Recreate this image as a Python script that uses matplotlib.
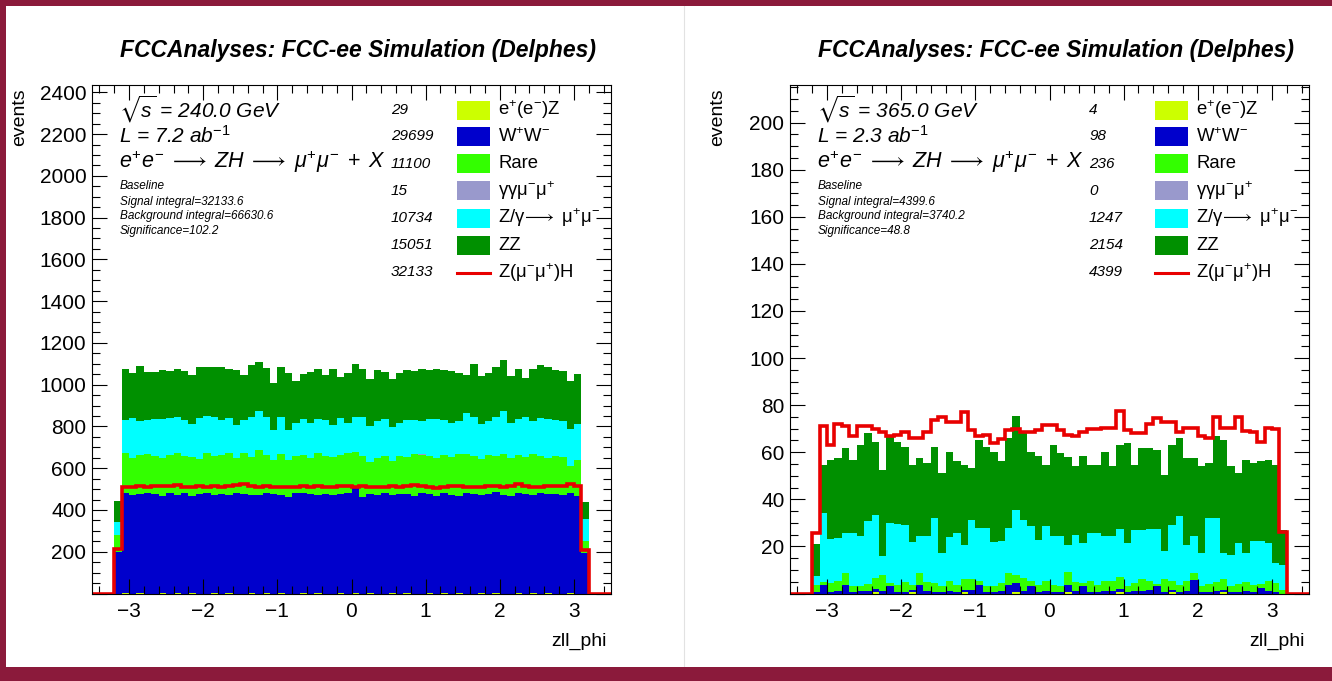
import matplotlib

matplotlib.use("Agg")
import matplotlib.pyplot as plt
import numpy as np
from matplotlib.lines import Line2D
from matplotlib.patches import Rectangle
from matplotlib.ticker import FuncFormatter, MultipleLocator

plt.rcParams["font.family"] = ["Liberation Sans", "DejaVu Sans"]
plt.rcParams["mathtext.fontset"] = "custom"
plt.rcParams["mathtext.rm"] = "Liberation Sans"
plt.rcParams["mathtext.it"] = "Liberation Sans:italic"
plt.rcParams["mathtext.bf"] = "Liberation Sans:bold"
plt.rcParams["mathtext.sf"] = "Liberation Sans"
plt.rcParams["mathtext.fallback"] = "stixsans"

W, H, DPI = 1332, 681, 100

# zll_phi histogram: 0.1 wide bins, only -3.2 .. 3.2 is filled
BIN_EDGES = np.round(np.arange(-3.2, 3.2001, 0.1), 2)
X_RANGE = (-3.5, 3.5)

TITLE = "FCCAnalyses: FCC-ee Simulation (Delphes)"
PROCESS_LABELS = [
    r"$\mathrm{e^{+}(e^{-})Z}$",
    r"$\mathrm{W^{+}W^{-}}$",
    "Rare",
    r"$\mathrm{\gamma\gamma\mu^{-}\mu^{+}}$",
    r"$\mathrm{Z/\gamma\!\longrightarrow\ \mu^{+}\mu^{-}}$",
    "ZZ",
]
SIGNAL_LABEL = r"$\mathrm{Z(\mu^{-}\mu^{+})H}$"
PROCESS_COLORS = ["#ccff00", "#0000cc", "#33ff00", "#9999cc", "#00ffff", "#009000"]
SIGNAL_COLOR = "#e80000"

# ---- sqrt(s) = 240 GeV ----
eez_240 = [0, 1, 0, 1, 0, 0, 1, 0, 1, 0, 1, 0, 0, 1, 0, 1, 0, 0, 1, 0, 1, 0, 1, 0, 0, 1, 0, 1, 0, 0, 1, 0,
           1, 0, 1, 0, 0, 1, 0, 1, 0, 0, 1, 0, 1, 0, 1, 0, 0, 1, 0, 1, 0, 0, 1, 0, 1, 0, 1, 0, 0, 1, 0, 0]
ww_240 = [200, 478, 470, 474, 480, 476, 468, 482, 473, 479, 466, 477, 481, 472, 475, 470, 483, 478, 469, 474,
          480, 476, 471, 464, 479, 482, 475, 473, 478, 470, 476, 481, 505, 462, 477, 474, 480, 472, 478, 475,
          469, 482, 476, 466, 479, 473, 468, 480, 475, 471, 477, 483, 474, 469, 478, 476, 472, 480, 474, 477,
          471, 479, 465, 196]
rare_240 = [80, 192, 179, 186, 190, 181, 181, 183, 197, 181, 188, 167, 192, 185, 190, 200, 166, 195, 185, 215,
            180, 165, 194, 174, 178, 178, 174, 197, 179, 184, 184, 192, 171, 195, 151, 175, 177, 161, 182, 179,
            201, 183, 181, 183, 181, 181, 197, 190, 182, 170, 188, 174, 196, 180, 182, 178, 193, 177, 175, 183,
            183, 130, 173, 56]
gg_240 = [0, 0, 0, 1, 0, 0, 0, 0, 1, 0, 0, 0, 0, 1, 0, 0, 0, 0, 1, 0, 0, 0, 1, 0, 0, 0, 0, 1, 0, 0, 0, 0,
          1, 0, 0, 0, 0, 1, 0, 0, 0, 1, 0, 0, 0, 0, 1, 0, 0, 0, 0, 1, 0, 0, 0, 1, 0, 0, 0, 0, 1, 0, 0, 0]
zgamma_240 = [63, 159, 191, 165, 159, 179, 184, 175, 175, 169, 155, 196, 175, 188, 168, 170, 160, 160, 191, 187,
              185, 144, 180, 147, 160, 173, 168, 166, 172, 155, 180, 144, 169, 188, 173, 176, 179, 160, 157, 175,
              163, 160, 176, 187, 169, 163, 160, 194, 188, 168, 160, 188, 202, 168, 173, 191, 160, 183, 184, 173,
              171, 180, 175, 105]
zz_240 = [100, 246, 216, 263, 230, 223, 236, 224, 227, 235, 234, 245, 237, 238, 250, 235, 263, 215, 246, 232,
          235, 223, 240, 271, 199, 215, 242, 239, 219, 266, 195, 239, 251, 230, 226, 244, 223, 234, 239, 240,
          231, 247, 236, 239, 240, 247, 231, 184, 254, 231, 231, 240, 244, 223, 239, 187, 247, 256, 252, 239,
          239, 227, 238, 80]
signal_240 = [211, 512, 510, 514, 511, 516, 513, 515, 520, 512, 510, 513, 511, 514, 512, 516, 518, 522, 513, 511,
              514, 510, 512, 509, 511, 513, 512, 514, 510, 511, 513, 515, 512, 514, 511, 509, 512, 513, 510, 516,
              520, 514, 512, 505, 512, 515, 513, 511, 512, 510, 513, 514, 512, 515, 525, 516, 512, 511, 513, 516,
              514, 524, 513, 208]
yields_240 = ["29", "29699", "11100", "15", "10734", "15051", "32133"]
info_240 = ["240.0", "7.2", "32133.6", "66630.6", "102.2"]

# ---- sqrt(s) = 365 GeV ----
eez_365 = [0, 0, 0, 0, 0, 0, 0, 0, 0.5, 0, 0, 0, 0, 0.5, 0, 0, 0, 0, 0, 0, 0.5, 0, 0, 0, 0, 0, 0, 0.5, 0, 0,
           0, 0, 0, 0, 0.5, 0, 0, 0, 0, 0, 0, 0.5, 0, 0, 0, 0, 0, 0, 0.5, 0, 0, 0, 0, 0, 0, 0.5, 0, 0, 0, 0,
           0, 0, 0, 0]
ww_365 = [0.5, 3.5, 0.5, 1.0, 3.5, 0.5, 1.0, 1.0, 1.5, 1.0, 3.0, 0.5, 0.5, 1.0, 3.5, 1.0, 0.5, 0.5, 1.0, 0.5,
          1.0, 1.5, 3.5, 0.5, 0.5, 1.0, 3.5, 4.0, 1.0, 3.0, 0.5, 1.0, 0.5, 0.5, 3.0, 1.0, 3.0, 0.5, 0.5, 1.0,
          1.0, 1.5, 0.5, 1.0, 1.0, 1.5, 3.0, 0.5, 1.0, 0.5, 1.0, 5.9, 0.5, 0.5, 1.0, 1.0, 0.5, 0.5, 1.0, 0.5,
          2.5, 1.0, 0.5, 0.0]
rare_365 = [3.0, 1.5, 4.0, 4.5, 5.3, 2.5, 2.0, 3.0, 4.5, 7.0, 1.5, 3.0, 4.5, 2.0, 5.0, 4.0, 4.0, 2.5, 4.5, 3.0,
            4.5, 4.5, 2.0, 2.5, 2.5, 3.5, 5.3, 3.5, 5.5, 2.5, 3.0, 4.5, 3.0, 2.5, 5.5, 4.0, 1.5, 5.0, 3.0, 4.5,
            4.5, 5.0, 2.5, 3.5, 5.0, 4.0, 1.0, 5.5, 4.0, 3.0, 4.5, 2.9, 2.5, 3.5, 4.0, 4.5, 2.5, 3.5, 4.0, 3.0,
            1.5, 4.5, 4.0, 1.5]
gg_365 = [0.0] * 64
zgamma_365 = [3.8, 29, 18.5, 18, 16.9, 22.7, 21.5, 26.6, 26.8, 7.8, 25.5, 26, 24, 18.5, 15.8, 19.3, 27.5, 14,
              18.5, 22.2, 14.5, 25.4, 22.3, 24.8, 19, 18, 19.2, 27.5, 24.9, 23, 19.4, 23, 20.8, 21.3, 11.5, 20,
              17, 20.2, 22.2, 18.8, 18.8, 20.5, 18.5, 22.5, 21, 21.9, 23.4, 12, 23.5, 29.3, 15.3, 15.5, 14.2, 28,
              27, 11, 13.5, 17.5, 12.2, 18.7, 18.2, 16, 8.5, 10.5]
zz_365 = [13.7, 20.7, 33.8, 34, 36, 31.1, 38.6, 37.5, 31, 36.7, 37.4, 35, 33.4, 32.5, 33.2, 31.1, 30.4, 34.1,
          36.3, 30.4, 34, 21.8, 37.5, 34.6, 38.3, 33.6, 38, 40.1, 36.7, 31.8, 35.3, 26.2, 38.8, 35.3, 37.5, 29,
          36.7, 29, 29, 36, 29.7, 35.4, 42.3, 27.7, 34.7, 34.3, 33.6, 32.4, 33.9, 33.2, 36.7, 33.2, 36.8, 23.4,
          34.7, 48, 37.5, 29.6, 39.6, 33.2, 33.9, 35.3, 41.7, 15]
signal_365 = [25.7, 71.0, 63.0, 72.0, 71.0, 67.0, 71.0, 71.0, 70.0, 68.5, 67.0, 67.5, 68.5, 66.0, 66.0, 68.5,
              73.5, 75.0, 73.0, 73.0, 77.0, 69.5, 67.0, 67.5, 64.0, 65.5, 69.5, 70.0, 68.8, 68.8, 69.5, 71.5,
              71.5, 69.5, 67.5, 67.0, 68.8, 70.0, 70.0, 70.2, 70.2, 77.5, 69.5, 68.0, 68.0, 72.0, 74.5, 73.0,
              73.0, 68.8, 70.2, 70.2, 67.0, 66.0, 75.0, 70.2, 70.5, 75.0, 69.0, 68.8, 64.5, 70.5, 70.0, 26.0]
yields_365 = ["4", "98", "236", "0", "1247", "2154", "4399"]
info_365 = ["365.0", "2.3", "4399.6", "3740.2", "48.8"]

# layout in pixels
AX_TOP, AX_BOTTOM, AX_W = 85, 593.5, 519
LEGEND_ROWS = [110, 136.5, 163.5, 191, 218, 245, 272.5]
BORDER = "#8b1a3b"


def to_fig(x_px, y_px):
    return x_px / W, 1 - y_px / H


def draw_panel(fig, left, layers, signal, yields, info, ymax, ystep):
    x0, y0 = to_fig(left, AX_BOTTOM)
    ax = fig.add_axes([x0, y0, AX_W / W, (AX_BOTTOM - AX_TOP) / H])

    # stacked backgrounds, top of stack drawn first
    tops = np.cumsum(np.array(layers, dtype=float), axis=0)
    for top, color in reversed(list(zip(tops, PROCESS_COLORS))):
        ax.stairs(top, BIN_EDGES, baseline=0, fill=True, color=color, lw=0)

    edges = np.concatenate([[X_RANGE[0]], BIN_EDGES, [X_RANGE[1]]])
    ax.stairs(np.concatenate([[0], signal, [0]]), edges, baseline=0,
              color=SIGNAL_COLOR, lw=2.6, zorder=3)

    ax.set_xlim(*X_RANGE)
    ax.set_ylim(0, ymax)
    ax.xaxis.set_major_locator(MultipleLocator(1))
    ax.xaxis.set_minor_locator(MultipleLocator(0.2))
    ax.yaxis.set_major_locator(MultipleLocator(ystep))
    ax.yaxis.set_minor_locator(MultipleLocator(ystep / 4))
    ax.yaxis.set_major_formatter(FuncFormatter(lambda v, p: "" if v == 0 else f"{v:g}"))
    ax.tick_params(which="both", direction="in", top=True, right=True, width=0.8,
                   labelsize=15, colors="black")
    ax.tick_params(axis="x", which="major", length=10.5, pad=6)
    ax.tick_params(axis="x", which="minor", length=5.5)
    ax.tick_params(axis="y", which="major", length=11, pad=4)
    ax.tick_params(axis="y", which="minor", length=5.5)
    for spine in ax.spines.values():
        spine.set_linewidth(0.8)
        spine.set_zorder(4)

    def text(x, y, s, **kw):
        fig.text(*to_fig(left + x, y), s, **kw)

    text(AX_W / 2 + 6, 51, TITLE, ha="center", va="center", fontsize=16.5,
         fontweight="bold", style="italic")
    text(-72, 88, "events", rotation=90, ha="center", va="top", fontsize=14)
    text(AX_W - 4, 641, "zll_phi", ha="right", va="center", fontsize=14)

    ecm, lumi, sig, bkg, signif = info
    text(27, 109, r"$\sqrt{s}$ = " + ecm + " GeV", va="center", fontsize=15, style="italic")
    text(27, 136, "L = " + lumi + r" ab$^{\mathit{-1}}$", va="center", fontsize=15, style="italic")
    text(27, 162, r"$e^{+}e^{-}\;\longrightarrow\;ZH\;\longrightarrow\;\mu^{+}\mu^{-}\;+\;X$",
         va="center", fontsize=15.5)
    small = ["Baseline", "Signal integral=" + sig, "Background integral=" + bkg,
             "Significance=" + signif]
    for y, s in zip([186, 202, 216.5, 231], small):
        text(28, y, s, va="center", fontsize=8.5, style="italic")

    # legend: yield, swatch, label
    for i, y in enumerate(LEGEND_ROWS):
        text(299, y, yields[i], va="center", fontsize=11, style="italic")
        if i < len(PROCESS_LABELS):
            bx, by = to_fig(left + 365, y + 9.5)
            fig.add_artist(Rectangle((bx, by), 33 / W, 19 / H, transform=fig.transFigure,
                                     color=PROCESS_COLORS[i], lw=0))
            text(406, y, PROCESS_LABELS[i], va="center", fontsize=13.3)
        else:
            lx0, ly = to_fig(left + 365, y)
            lx1, _ = to_fig(left + 398, y)
            fig.add_artist(Line2D([lx0, lx1], [ly, ly], transform=fig.transFigure,
                                  color=SIGNAL_COLOR, lw=2.2))
            text(406, y, SIGNAL_LABEL, va="center", fontsize=13.3)
    return ax


def main():
    fig = plt.figure(figsize=(W / DPI, H / DPI), dpi=DPI)
    fig.patch.set_facecolor("white")

    layers_240 = [eez_240, ww_240, rare_240, gg_240, zgamma_240, zz_240]
    layers_365 = [eez_365, ww_365, rare_365, gg_365, zgamma_365, zz_365]
    draw_panel(fig, 92, layers_240, signal_240, yields_240, info_240, 2435, 200)
    draw_panel(fig, 790, layers_365, signal_365, yields_365, info_365, 216, 20)

    # canvas separator and slide frame
    fig.add_artist(Line2D([684 / W] * 2, [0, 1], transform=fig.transFigure,
                          color="#e2e2e2", lw=0.8))
    for x, y, w, h in [(0, 0, W, 6), (0, 0, 6, H), (0, 667, W, 14)]:
        fx, fy = to_fig(x, y + h)
        fig.add_artist(Rectangle((fx, fy), w / W, h / H, transform=fig.transFigure,
                                 color=BORDER, lw=0, zorder=10))

    fig.savefig("out.png", dpi=DPI)
    plt.close(fig)


if __name__ == "__main__":
    main()
